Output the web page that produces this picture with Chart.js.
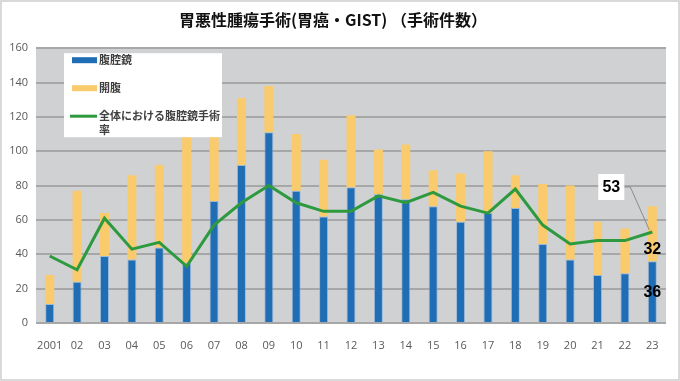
<!DOCTYPE html>
<html><head><meta charset="utf-8">
<script src="https://cdn.jsdelivr.net/npm/chart.js@4.4.1/dist/chart.umd.min.js"></script>
<style>html,body{margin:0;padding:0;background:#fff}#wrap{width:680px;height:381px}</style>
</head><body><div id="wrap"><canvas id="c" width="680" height="381"></canvas></div>
<script>
const categories = ['2001','02','03','04','05','06','07','08','09','10','11','12','13','14','15','16','17','18','19','20','21','22','23'];
const laparoscopic = [11,24,39,37,44,35,71,92,111,77,62,79,75,72,68,59,64,67,46,37,28,29,36];
const openSurgery = [17,53,25,49,48,76,53,39,27,33,33,42,26,32,21,28,36,19,35,43,31,26,32];
const lapRate = [39,31,61,43,47,33,57,70,80,70,65,65,74,70,76,68,64,78,57,46,48,48,53];
const yTickValues = [0,20,40,60,80,100,120,140,160];
const seriesNames = ['腹腔鏡','開腹','全体における腹腔鏡手術率'];
const titleText = '胃悪性腫瘍手術(胃癌・GIST) （手術件数）';

const COLORS = {blue:'#1f6db5', yellow:'#f9cb6c', green:'#2e9a40', plotBg:'#d0d1d3', grid:'#a7a7a7', frame:'#d9d9d9'};

const bgPlugin = {
  id:'bg',
  beforeDraw(chart){
    const {ctx, chartArea:a} = chart;
    ctx.save();
    ctx.fillStyle='#fff'; ctx.fillRect(0,0,chart.width,chart.height);
    ctx.strokeStyle=COLORS.frame; ctx.lineWidth=2; ctx.strokeRect(1,1,chart.width-2,chart.height-2);
    ctx.fillStyle=COLORS.plotBg; ctx.fillRect(a.left,a.top-1,a.right-a.left,a.bottom-a.top+1);
    ctx.restore();
  }
};

const legendPlugin = {
  id:'boxLegend',
  afterDraw(chart){
    const {ctx, chartArea:a} = chart;
    const bx = a.left+28, by = a.top+5, bw = 158, bh = 84;
    ctx.save();
    ctx.fillStyle='#fff'; ctx.fillRect(bx,by,bw,bh);
    ctx.font = 'bold 11px "Noto Sans CJK JP"';
    ctx.fillStyle='#404040'; ctx.textBaseline='middle'; ctx.textAlign='left';
    const ds = chart.data.datasets;
    const textX = bx+35, maxW = bw-37;
    ds.forEach((d,k)=>{
      const cy = by+7+k*28;
      if(d.type==='line'){
        ctx.strokeStyle=d.borderColor; ctx.lineWidth=3; ctx.beginPath(); ctx.moveTo(bx+6,cy); ctx.lineTo(bx+33,cy); ctx.stroke();
      } else {
        ctx.fillStyle=d.backgroundColor; ctx.fillRect(bx+8,cy-3,25,6);
      }
      ctx.fillStyle='#404040';
      // wrap text
      let lines=[], cur='';
      for(const ch of d.label){ if(ctx.measureText(cur+ch).width>maxW){lines.push(cur);cur=ch;} else cur+=ch; }
      lines.push(cur);
      lines.forEach((t,j)=>ctx.fillText(t,textX,cy+j*14));
    });
    ctx.restore();
  }
};

const labelPlugin = {
  id:'endLabels',
  afterDatasetsDraw(chart){
    const {ctx} = chart;
    const i = categories.length-1;
    const blue = chart.getDatasetMeta(0).data[i];
    const yel = chart.getDatasetMeta(1).data[i];
    const pt = chart.getDatasetMeta(2).data[i];
    ctx.save();
    ctx.font='bold 16px "Liberation Sans"';
    ctx.textAlign='center'; ctx.textBaseline='middle';
    // rate label box
    const cx = pt.x-41, cy = pt.y-45;
    ctx.strokeStyle='#8c8c8c'; ctx.lineWidth=1;
    ctx.beginPath(); ctx.moveTo(cx+13,cy); ctx.lineTo(cx+19,cy); ctx.lineTo(pt.x-3,pt.y-2); ctx.stroke();
    ctx.fillStyle='#fff'; ctx.fillRect(cx-13,cy-13,26,26);
    ctx.fillStyle='#000';
    ctx.fillText(String(lapRate[i]),cx,cy+1);
    ctx.fillText(String(openSurgery[i]),yel.x,yel.base-12);
    ctx.fillText(String(laparoscopic[i]),blue.x,(blue.y+blue.base)/2+1);
    ctx.restore();
  }
};

new Chart(document.getElementById('c'),{
  data:{
    labels:categories,
    datasets:[
      {type:'bar',label:seriesNames[0],data:laparoscopic,backgroundColor:COLORS.blue,borderColor:'rgba(120,170,220,0.6)',borderWidth:{left:1,right:1,top:1},stack:'s',order:2,barPercentage:0.33,categoryPercentage:1},
      {type:'bar',label:seriesNames[1],data:openSurgery,backgroundColor:COLORS.yellow,stack:'s',order:2,barPercentage:0.33,categoryPercentage:1},
      {type:'line',label:seriesNames[2],data:lapRate,borderColor:COLORS.green,backgroundColor:COLORS.green,borderWidth:3,pointRadius:0,tension:0,stack:'r',order:0}
    ]
  },
  options:{
    responsive:false, animation:false, devicePixelRatio:1,
    layout:{padding:{left:0,right:14,top:0,bottom:0}},
    plugins:{
      legend:{display:false}, tooltip:{enabled:false},
      title:{display:true,text:titleText,color:'#111',font:{family:'"Noto Sans CJK JP"',size:16,weight:'bold'},padding:{top:10,bottom:19}}
    },
    scales:{
      x:{stacked:true,grid:{display:false},border:{display:false},
         ticks:{color:'#595959',font:{family:'"Open Sans"',size:11},padding:8,maxRotation:0,autoSkip:false},
         afterFit(s){s.height=58;}},
      y:{stacked:true,min:0,max:160,
         afterBuildTicks(s){s.ticks=yTickValues.map(v=>({value:v}));},
         grid:{color:COLORS.grid,lineWidth:2,drawTicks:false},border:{display:false},
         ticks:{color:'#595959',font:{family:'"Open Sans"',size:11},padding:8},
         afterFit(s){s.width=36;}}
    }
  },
  plugins:[bgPlugin,legendPlugin,labelPlugin]
});
</script></body></html>
